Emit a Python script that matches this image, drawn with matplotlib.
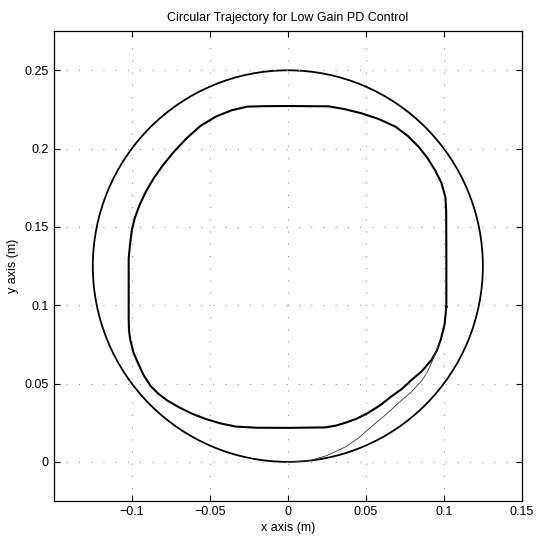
import matplotlib
matplotlib.use("Agg")
import matplotlib.pyplot as plt
from matplotlib.patches import Circle

# desired trajectory: circle
circle_center = (0.0, 0.125)
circle_radius = 0.125

path_x = [0.1016, 0.1016, 0.1015, 0.101, 0.0985, 0.0945, 0.0895, 0.084, 0.077, 0.069,
          0.058, 0.047, 0.036, 0.026, 0.0, -0.015, -0.026, -0.036, -0.046, -0.056,
          -0.065, -0.073, -0.080, -0.086, -0.091, -0.095, -0.098, -0.100, -0.101,
          -0.102, -0.102, -0.1018, -0.101, -0.099, -0.096, -0.0925, -0.088, -0.083,
          -0.077, -0.070, -0.062, -0.053, -0.043, -0.033, -0.020, 0.0, 0.024, 0.031,
          0.037, 0.044, 0.051, 0.059, 0.066, 0.073, 0.079, 0.086, 0.092, 0.0955,
          0.098, 0.1005, 0.1016]
path_y = [0.099, 0.135, 0.160, 0.169, 0.178, 0.186, 0.194, 0.201, 0.208, 0.214,
          0.219, 0.2226, 0.2253, 0.227, 0.2272, 0.2271, 0.2268, 0.2245, 0.2205, 0.2145,
          0.2065, 0.198, 0.1895, 0.181, 0.1725, 0.164, 0.156, 0.148, 0.140,
          0.130, 0.0906, 0.084, 0.078, 0.070, 0.063, 0.0555, 0.0485, 0.0435,
          0.039, 0.035, 0.031, 0.0275, 0.0245, 0.0225, 0.0218, 0.0217, 0.022, 0.0232,
          0.025, 0.0275, 0.031, 0.036, 0.0415, 0.0465, 0.052, 0.058, 0.065, 0.071,
          0.078, 0.088, 0.099]

# initial transient from start point
start_x = [0.0, 0.008, 0.015, 0.025, 0.037, 0.045, 0.053, 0.062, 0.071, 0.079,
           0.086, 0.0895, 0.092, 0.0945, 0.097]
start_y = [0.0, 0.0003, 0.001, 0.004, 0.0096, 0.015, 0.022, 0.0295, 0.0376, 0.0445,
           0.052, 0.0575, 0.063, 0.069, 0.076]

xticks = [-0.1, -0.05, 0, 0.05, 0.1, 0.15]
xtick_labels = ["\u22120.1", "\u22120.05", "0", "0.05", "0.1", "0.15"]
yticks = [0, 0.05, 0.1, 0.15, 0.2, 0.25]
ytick_labels = ["0", "0.05", "0.1", "0.15", "0.2", "0.25"]

plt.rcParams['font.family'] = ['Liberation Sans', 'DejaVu Sans']

fig = plt.figure(figsize=(5.38, 5.37), dpi=100)
ax = fig.add_axes([0.100, 0.067, 0.870, 0.875])

ax.add_patch(Circle(circle_center, circle_radius, fill=False, edgecolor='black', linewidth=1.3))
ax.plot(path_x, path_y, color='black', linewidth=1.5, solid_joinstyle='round')
ax.plot(start_x, start_y, color='#333333', linewidth=0.6)

ax.set_xlim(-0.15, 0.15)
ax.set_ylim(-0.025, 0.275)
ax.set_xticks(xticks)
ax.set_xticklabels(xtick_labels)
ax.set_yticks(yticks)
ax.set_yticklabels(ytick_labels)
ax.tick_params(direction='in', top=True, right=True, length=4, labelsize=9, width=0.8)
ax.grid(True, color='#999999', linestyle=(0, (1, 10)), linewidth=0.8)
for s in ax.spines.values():
    s.set_linewidth(0.9)

ax.set_title("Circular Trajectory for Low Gain PD Control", fontsize=9, pad=7)
ax.set_xlabel("x axis (m)", fontsize=9, labelpad=3)
ax.set_ylabel("y axis (m)", fontsize=9, labelpad=4)

fig.savefig("out.png", dpi=100)
